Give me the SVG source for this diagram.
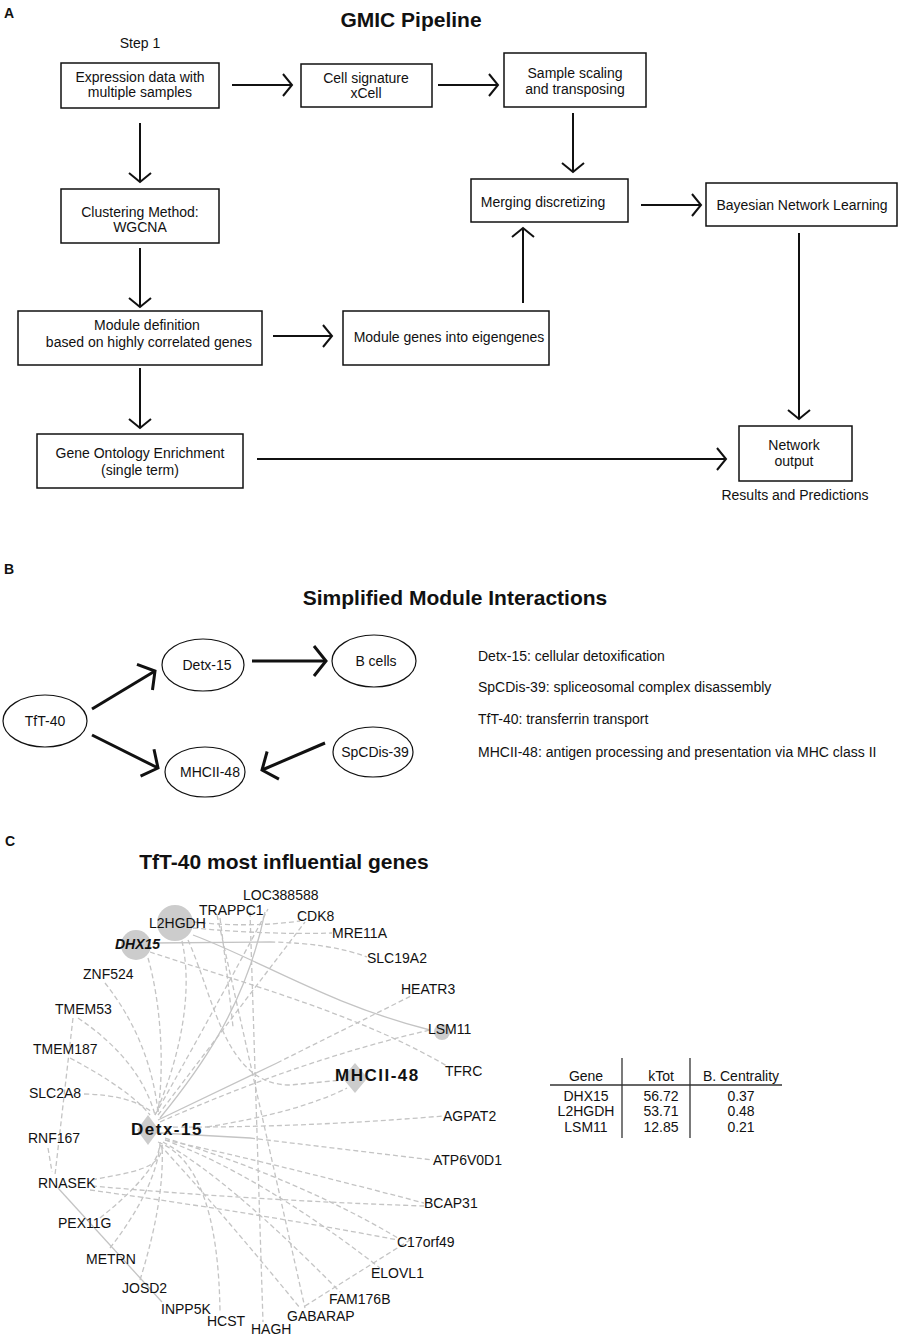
<svg xmlns="http://www.w3.org/2000/svg" width="901" height="1339" viewBox="0 0 901 1339">
<defs>
<style>
text{font-family:"Liberation Sans",Arial,sans-serif;fill:#111}
.t{font-size:14px}
.c{text-anchor:middle}
.h{font-size:21px;font-weight:bold;text-anchor:middle}
.lab{font-size:14px;font-weight:bold}
.box{fill:#fff;stroke:#111;stroke-width:1.5}
.ar{fill:none;stroke:#111;stroke-width:2;marker-end:url(#ah)}
.arB{fill:none;stroke:#111;stroke-width:3;marker-end:url(#ahB)}
.el{fill:#fff;stroke:#111;stroke-width:1.2}
.e{fill:none;stroke:#c4c4c4;stroke-width:1.3;stroke-dasharray:5 3}
.s{fill:none;stroke:#c4c4c4;stroke-width:1.3}
.g{font-size:14px}
.hub{font-size:17px;font-weight:bold;letter-spacing:1.5px}
.nd{fill:#cccccc}
.tl{stroke:#333;stroke-width:1.3}
</style>
<marker id="ah" markerUnits="userSpaceOnUse" markerWidth="30" markerHeight="30" viewBox="-15 -15 30 30" refX="0" refY="0" orient="auto" overflow="visible"><path d="M-9,-11 L0,0 L-9,11" fill="none" stroke="#111" stroke-width="2"/></marker>
<marker id="ahB" markerUnits="userSpaceOnUse" markerWidth="40" markerHeight="40" viewBox="-20 -20 40 40" refX="0" refY="0" orient="auto" overflow="visible"><path d="M-12,-15 L0,0 L-12,15" fill="none" stroke="#111" stroke-width="3"/></marker>
</defs>
<rect width="901" height="1339" fill="#fff"/>

<!-- Panel A -->
<text class="lab" x="4" y="18">A</text>
<text class="h" x="411" y="27">GMIC Pipeline</text>
<text class="t c" x="140" y="48">Step 1</text>

<g id="nodeA1"><rect class="box" x="61" y="63" width="158" height="45"/><text class="t c" x="140" y="82">Expression data with</text><text class="t c" x="140" y="97">multiple samples</text></g>
<g id="nodeA2"><rect class="box" x="301" y="64" width="131" height="43"/><text class="t c" x="366" y="83">Cell signature</text><text class="t c" x="366" y="98">xCell</text></g>
<g id="nodeA3"><rect class="box" x="504" y="53" width="142" height="54"/><text class="t c" x="575" y="78">Sample scaling</text><text class="t c" x="575" y="94">and transposing</text></g>
<g id="nodeA4"><rect class="box" x="471" y="179" width="157" height="43"/><text class="t c" x="543" y="207">Merging discretizing</text></g>
<g id="nodeA5"><rect class="box" x="706" y="183" width="191" height="43"/><text class="t c" x="802" y="210">Bayesian Network Learning</text></g>
<g id="nodeA6"><rect class="box" x="61" y="189" width="158" height="54"/><text class="t c" x="140" y="217">Clustering Method:</text><text class="t c" x="140" y="232">WGCNA</text></g>
<g id="nodeA7"><rect class="box" x="18" y="311" width="244" height="54"/><text class="t c" x="147" y="330">Module definition</text><text class="t c" x="149" y="347">based on highly correlated genes</text></g>
<g id="nodeA8"><rect class="box" x="343" y="311" width="206" height="54"/><text class="t c" x="449" y="342">Module genes into eigengenes</text></g>
<g id="nodeA9"><rect class="box" x="37" y="434" width="206" height="54"/><text class="t c" x="140" y="458">Gene Ontology Enrichment</text><text class="t c" x="140" y="475">(single term)</text></g>
<g id="nodeA10"><rect class="box" x="739" y="426" width="113" height="55"/><text class="t c" x="794" y="450">Network</text><text class="t c" x="794" y="466">output</text><text class="t c" x="795" y="500">Results and Predictions</text></g>

<g id="connectorsA">
<line class="ar" x1="232" y1="85" x2="292" y2="85"/>
<line class="ar" x1="438" y1="85" x2="498" y2="85"/>
<line class="ar" x1="573" y1="113" x2="573" y2="172"/>
<line class="ar" x1="641" y1="205" x2="701" y2="205"/>
<line class="ar" x1="799" y1="233" x2="799" y2="419"/>
<line class="ar" x1="523" y1="303" x2="523" y2="228"/>
<line class="ar" x1="273" y1="336" x2="332" y2="336"/>
<line class="ar" x1="140" y1="123" x2="140" y2="182"/>
<line class="ar" x1="140" y1="248" x2="140" y2="307"/>
<line class="ar" x1="140" y1="368" x2="140" y2="428"/>
<line class="ar" x1="257" y1="459" x2="726" y2="459"/>
</g>

<!-- Panel B -->
<text class="lab" x="4" y="574">B</text>
<text class="h" x="455" y="605">Simplified Module Interactions</text>
<g id="nodeB1"><ellipse class="el" cx="45" cy="721" rx="42" ry="26"/><text class="t c" x="45" y="726">TfT-40</text></g>
<g id="nodeB2"><ellipse class="el" cx="203" cy="665" rx="41" ry="26"/><text class="t c" x="207" y="670">Detx-15</text></g>
<g id="nodeB3"><ellipse class="el" cx="374" cy="661" rx="42" ry="26"/><text class="t c" x="376" y="666">B cells</text></g>
<g id="nodeB4"><ellipse class="el" cx="373" cy="752" rx="40" ry="25"/><text class="t c" x="375" y="757">SpCDis-39</text></g>
<g id="nodeB5"><ellipse class="el" cx="205" cy="772" rx="40" ry="25"/><text class="t c" x="210" y="777">MHCII-48</text></g>
<g id="connectorsB">
<line class="arB" x1="92" y1="709" x2="155" y2="671"/>
<line class="arB" x1="92" y1="735" x2="158" y2="768"/>
<line class="arB" x1="252" y1="661" x2="326" y2="661"/>
<line class="arB" x1="325" y1="743" x2="262" y2="770"/>
</g>
<g id="legendB">
<text class="t" x="478" y="661">Detx-15: cellular detoxification</text>
<text class="t" x="478" y="692">SpCDis-39: spliceosomal complex disassembly</text>
<text class="t" x="478" y="724">TfT-40: transferrin transport</text>
<text class="t" x="478" y="757">MHCII-48: antigen processing and presentation via MHC class II</text>
</g>

<!-- Panel C -->
<text class="lab" x="5" y="846">C</text>
<text class="h" x="284" y="869">TfT-40 most influential genes</text>

<g id="connectorsC">
<path class="e" d="M105,983 Q150,1040 158,1112"/>
<path class="e" d="M78,1018 Q140,1060 155,1115"/>
<path class="e" d="M70,1058 Q130,1090 150,1115"/>
<path class="e" d="M84,1094 Q130,1095 152,1112"/>
<path class="e" d="M73,1018 L55,1175"/>
<path class="e" d="M48,1148 L52,1172"/>
<path class="e" d="M92,1180 C130,1172 165,1170 162,1142"/>
<path class="e" d="M100,1218 Q160,1170 160,1142"/>
<path class="e" d="M110,1248 Q155,1190 160,1145"/>
<path class="e" d="M140,1280 Q165,1200 162,1145"/>
<path class="s" d="M58,1188 L162,1302"/>
<path class="e" d="M217,915 L305,1308"/>
<path class="e" d="M250,912 L263,1322"/>
<path class="e" d="M158,1142 Q218,1165 220,1312"/>
<path class="e" d="M165,1127 Q300,1128 443,1116"/>
<path class="s" d="M160,1133 L250,1138"/>
<path class="e" d="M250,1138 L433,1160"/>
<path class="e" d="M165,1140 Q260,1160 424,1203"/>
<path class="e" d="M92,1186 Q250,1200 424,1206"/>
<path class="e" d="M90,1190 Q250,1212 398,1240"/>
<path class="e" d="M165,1138 Q300,1180 398,1238"/>
<path class="e" d="M165,1140 Q260,1175 380,1268"/>
<path class="e" d="M163,1142 Q230,1180 340,1292"/>
<path class="e" d="M160,1145 Q220,1210 300,1308"/>
<path class="e" d="M305,1306 L410,1240"/>
<path class="e" d="M207,1127 Q300,1112 347,1088"/>
<path class="s" d="M158,1120 L277,1063"/>
<path class="e" d="M277,1063 L413,995"/>
<path class="e" d="M160,1122 Q300,1060 430,1030"/>
<path class="e" d="M158,1115 L305,922"/>
<path class="e" d="M155,1115 Q220,1000 268,909"/>
<path class="s" d="M160,1118 C195,1075 245,1010 265,912"/>
<path class="e" d="M182,941 C195,1000 175,1070 155,1115"/>
<path class="e" d="M148,958 C160,1000 165,1060 158,1112"/>
<path class="e" d="M188,940 C215,1000 225,1085 290,1085 L343,1080"/>
<path class="e" d="M150,952 C250,985 360,1015 447,1066"/>
<path class="s" d="M193,935 C260,960 330,1005 430,1030"/>
<path class="s" d="M152,943 L270,942"/>
<path class="e" d="M270,942 Q330,943 367,957"/>
<path class="e" d="M193,928 Q270,935 332,933"/>
<path class="e" d="M193,922 Q250,928 300,921"/>
<path class="e" d="M220,918 Q228,980 233,1027"/>
</g>

<g id="geneL2HGDH"><circle class="nd" cx="175" cy="923" r="18"/><text class="g" x="149" y="928">L2HGDH</text></g>
<g id="geneDHX15"><circle class="nd" cx="136" cy="945" r="15"/><text class="g" x="115" y="949" font-weight="bold" font-style="italic">DHX15</text></g>
<g id="geneLSM11"><circle class="nd" cx="442" cy="1032" r="8"/><text class="g" x="428" y="1034">LSM11</text></g>
<g id="hubMHCII"><path class="nd" d="M355,1063 L367.5,1078 L355,1093 L342.5,1078 Z"/><text class="hub" x="335" y="1081">MHCII-48</text></g>
<g id="hubDetx"><path class="nd" d="M148,1115 L159,1130 L148,1145 L137,1130 Z"/><text class="hub" x="131" y="1135">Detx-15</text></g>

<g id="geneLabels">
<text class="g" x="243" y="900">LOC388588</text>
<text class="g" x="199" y="915">TRAPPC1</text>
<text class="g" x="297" y="921">CDK8</text>
<text class="g" x="332" y="938">MRE11A</text>
<text class="g" x="367" y="963">SLC19A2</text>
<text class="g" x="83" y="979">ZNF524</text>
<text class="g" x="401" y="994">HEATR3</text>
<text class="g" x="55" y="1014">TMEM53</text>
<text class="g" x="33" y="1054">TMEM187</text>
<text class="g" x="445" y="1076">TFRC</text>
<text class="g" x="29" y="1098">SLC2A8</text>
<text class="g" x="443" y="1121">AGPAT2</text>
<text class="g" x="28" y="1143">RNF167</text>
<text class="g" x="433" y="1165">ATP6V0D1</text>
<text class="g" x="38" y="1188">RNASEK</text>
<text class="g" x="424" y="1208">BCAP31</text>
<text class="g" x="58" y="1228">PEX11G</text>
<text class="g" x="397" y="1247">C17orf49</text>
<text class="g" x="86" y="1264">METRN</text>
<text class="g" x="371" y="1278">ELOVL1</text>
<text class="g" x="122" y="1293">JOSD2</text>
<text class="g" x="329" y="1304">FAM176B</text>
<text class="g" x="161" y="1314">INPP5K</text>
<text class="g" x="287" y="1321">GABARAP</text>
<text class="g" x="207" y="1326">HCST</text>
<text class="g" x="251" y="1334">HAGH</text>
</g>

<g id="table">
<line class="tl" x1="622" y1="1058" x2="622" y2="1138"/>
<line class="tl" x1="690" y1="1058" x2="690" y2="1138"/>
<line class="tl" x1="550" y1="1085" x2="782" y2="1085"/>
<text class="t c" x="586" y="1081">Gene</text>
<text class="t c" x="661" y="1081">kTot</text>
<text class="t c" x="741" y="1081">B. Centrality</text>
<text class="t c" x="586" y="1101">DHX15</text>
<text class="t c" x="661" y="1101">56.72</text>
<text class="t c" x="741" y="1101">0.37</text>
<text class="t c" x="586" y="1116">L2HGDH</text>
<text class="t c" x="661" y="1116">53.71</text>
<text class="t c" x="741" y="1116">0.48</text>
<text class="t c" x="586" y="1132">LSM11</text>
<text class="t c" x="661" y="1132">12.85</text>
<text class="t c" x="741" y="1132">0.21</text>
</g>
</svg>
